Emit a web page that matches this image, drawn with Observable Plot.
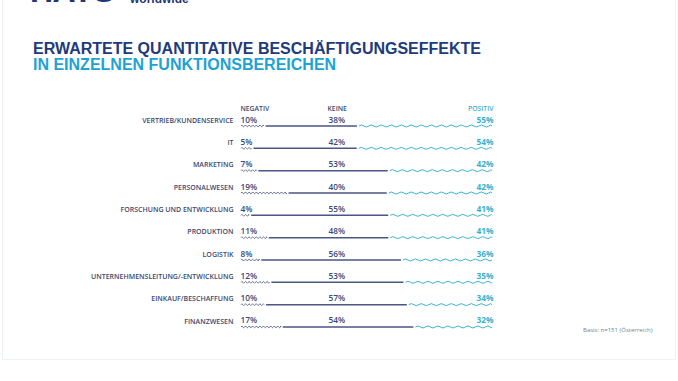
<!DOCTYPE html>
<html>
<head>
<meta charset="utf-8">
<script src="https://cdn.jsdelivr.net/npm/d3@7"></script>
<script src="https://cdn.jsdelivr.net/npm/@observablehq/plot@0.6"></script>
<style>
  html, body { margin: 0; padding: 0; background: #fff; }
  #slide { position: relative; width: 678px; height: 381px; overflow: hidden; background: #fff; }
  #frame { position: absolute; left: 2px; top: -2px; width: 672px; height: 361px; border: 1px solid #eef3f7; border-top: none; }
  #logo { position: absolute; left: 30px; top: -27px; font: bold 32px "Liberation Sans", Arial, sans-serif; color: #1d3679; letter-spacing: -0.5px; }
  #logo2 { position: absolute; left: 130px; top: -8px; font: bold 12px "Liberation Sans", Arial, sans-serif; color: #1d3679; }
  #t1 { position: absolute; left: 33px; top: 40px; font: bold 16px "Liberation Sans", Arial, sans-serif; color: #203a7c; white-space: nowrap; }
  #t2 { position: absolute; left: 33px; top: 56px; font: bold 16px "Liberation Sans", Arial, sans-serif; color: #1ca3d4; white-space: nowrap; }
  #basis { position: absolute; left: 583px; top: 326px; font: 6px "Open Sans", sans-serif; color: #7a7f88; white-space: nowrap; }
  #chart { position: absolute; left: 0; top: 0; }
</style>
</head>
<body>
<div id="slide">
  <div id="frame"></div>
  <div id="logo">HAYS</div>
  <div id="logo2">worldwide</div>
  <div id="t1">ERWARTETE QUANTITATIVE BESCHÄFTIGUNGSEFFEKTE</div>
  <div id="t2">IN EINZELNEN FUNKTIONSBEREICHEN</div>
  <div id="chart"></div>
  <div id="basis">Basis: n=151 (Österreich)</div>
</div>
<script>
const categories = ["VERTRIEB/KUNDENSERVICE","IT","MARKETING","PERSONALWESEN","FORSCHUNG UND ENTWICKLUNG","PRODUKTION","LOGISTIK","UNTERNEHMENSLEITUNG/-ENTWICKLUNG","EINKAUF/BESCHAFFUNG","FINANZWESEN"];
const negativ = [10,5,7,19,4,11,8,12,10,17];
const keine   = [38,42,53,40,55,48,56,53,57,54];
const positiv = [55,54,42,42,41,41,36,35,34,32];
const kinds = ["NEGATIV","KEINE","POSITIV"];

const rows = [];
categories.forEach((c, i) => {
  rows.push({cat: c, kind: "NEGATIV", value: negativ[i]});
  rows.push({cat: c, kind: "KEINE", value: keine[i]});
  rows.push({cat: c, kind: "POSITIV", value: positiv[i]});
});

const NAVY = "#3b4879";
const LINE = "#4a5684";
const CYAN = "#39b2cf";
const LABEL = "#3c4870";
const font = "'Open Sans', sans-serif";

const svg = Plot.plot({
  width: 678,
  height: 381,
  marginLeft: 240,
  marginRight: 185,
  marginTop: 113,
  marginBottom: 44.7,
  style: {fontFamily: font, background: "transparent", overflow: "visible"},
  x: {domain: [0, 1], axis: null},
  y: {domain: categories, axis: null, padding: 0, round: false},
  color: {domain: kinds, range: [NAVY, LINE, CYAN]},
  marks: [
    Plot.barX(rows, Plot.stackX({
      x: "value", y: "cat", fill: "kind", offset: "normalize",
      insetTop: 10.5, insetBottom: 6.83, insetLeft: 1, insetRight: 1
    })),
    // column headers
    Plot.text(["NEGATIV"], {frameAnchor: "top-left", dy: -7.5, textAnchor: "start", fill: LABEL, fontSize: 6.8, fontWeight: 600, letterSpacing: 0.4}),
    Plot.text(["KEINE"], {frameAnchor: "top-left", dx: 87, dy: -7.5, textAnchor: "start", fill: LABEL, fontSize: 6.8, fontWeight: 600, letterSpacing: 0.4}),
    Plot.text(["POSITIV"], {frameAnchor: "top-right", dy: -7.5, textAnchor: "end", fill: CYAN, fontSize: 6.8, fontWeight: 600, letterSpacing: 0.4}),
    // category labels
    Plot.text(categories, {y: d => d, text: d => d, frameAnchor: "left", dx: -7, dy: -4.3, textAnchor: "end", fill: LABEL, fontSize: 7, fontWeight: 600, letterSpacing: 0.35}),
    // values
    Plot.text(categories, {y: d => d, text: (d, i) => negativ[i] + "%", frameAnchor: "left", dy: -4.8, textAnchor: "start", fill: NAVY, fontSize: 8.3, fontWeight: 600}),
    Plot.text(categories, {y: d => d, text: (d, i) => keine[i] + "%", frameAnchor: "left", dx: 88, dy: -4.8, textAnchor: "start", fill: NAVY, fontSize: 8.3, fontWeight: 600}),
    Plot.text(categories, {y: d => d, text: (d, i) => positiv[i] + "%", frameAnchor: "right", dy: -4.8, textAnchor: "end", fill: CYAN, fontSize: 8.3, fontWeight: 700})
  ]
});

// turn the stacked bar rectangles into a wavy / straight stroke
function wave(x0, x1, cy, period, amp) {
  let p = `M${x0},${cy}`;
  let x = x0, up = true;
  const half = period / 2;
  while (x < x1 - 0.01) {
    const nx = Math.min(x + half, x1);
    const cx = (x + nx) / 2;
    p += ` Q${cx},${cy + (up ? -2 * amp : 2 * amp)} ${nx},${cy}`;
    x = nx; up = !up;
  }
  return p;
}
svg.querySelectorAll('g[aria-label="bar"] rect').forEach((r, j) => {
  const idx = typeof r.__data__ === "number" ? r.__data__ : j;
  const kind = rows[idx].kind;
  const x = +r.getAttribute("x"), y = +r.getAttribute("y");
  const w = +r.getAttribute("width"), h = +r.getAttribute("height");
  const cy = y + h / 2;
  const path = document.createElementNS("http://www.w3.org/2000/svg", "path");
  path.setAttribute("fill", "none");
  if (kind === "NEGATIV") {
    path.setAttribute("d", wave(x, x + w, cy, 3.6, 0.9));
    path.setAttribute("stroke", NAVY);
    path.setAttribute("stroke-width", 0.8);
  } else if (kind === "KEINE") {
    path.setAttribute("d", `M${x},${cy}H${x + w}`);
    path.setAttribute("stroke", LINE);
    path.setAttribute("stroke-width", 1.5);
  } else {
    path.setAttribute("d", wave(x, x + w, cy, 10, 1.0));
    path.setAttribute("stroke", CYAN);
    path.setAttribute("stroke-width", 1.0);
  }
  r.parentNode.replaceChild(path, r);
});

document.getElementById("chart").appendChild(svg);
</script>
</body>
</html>
